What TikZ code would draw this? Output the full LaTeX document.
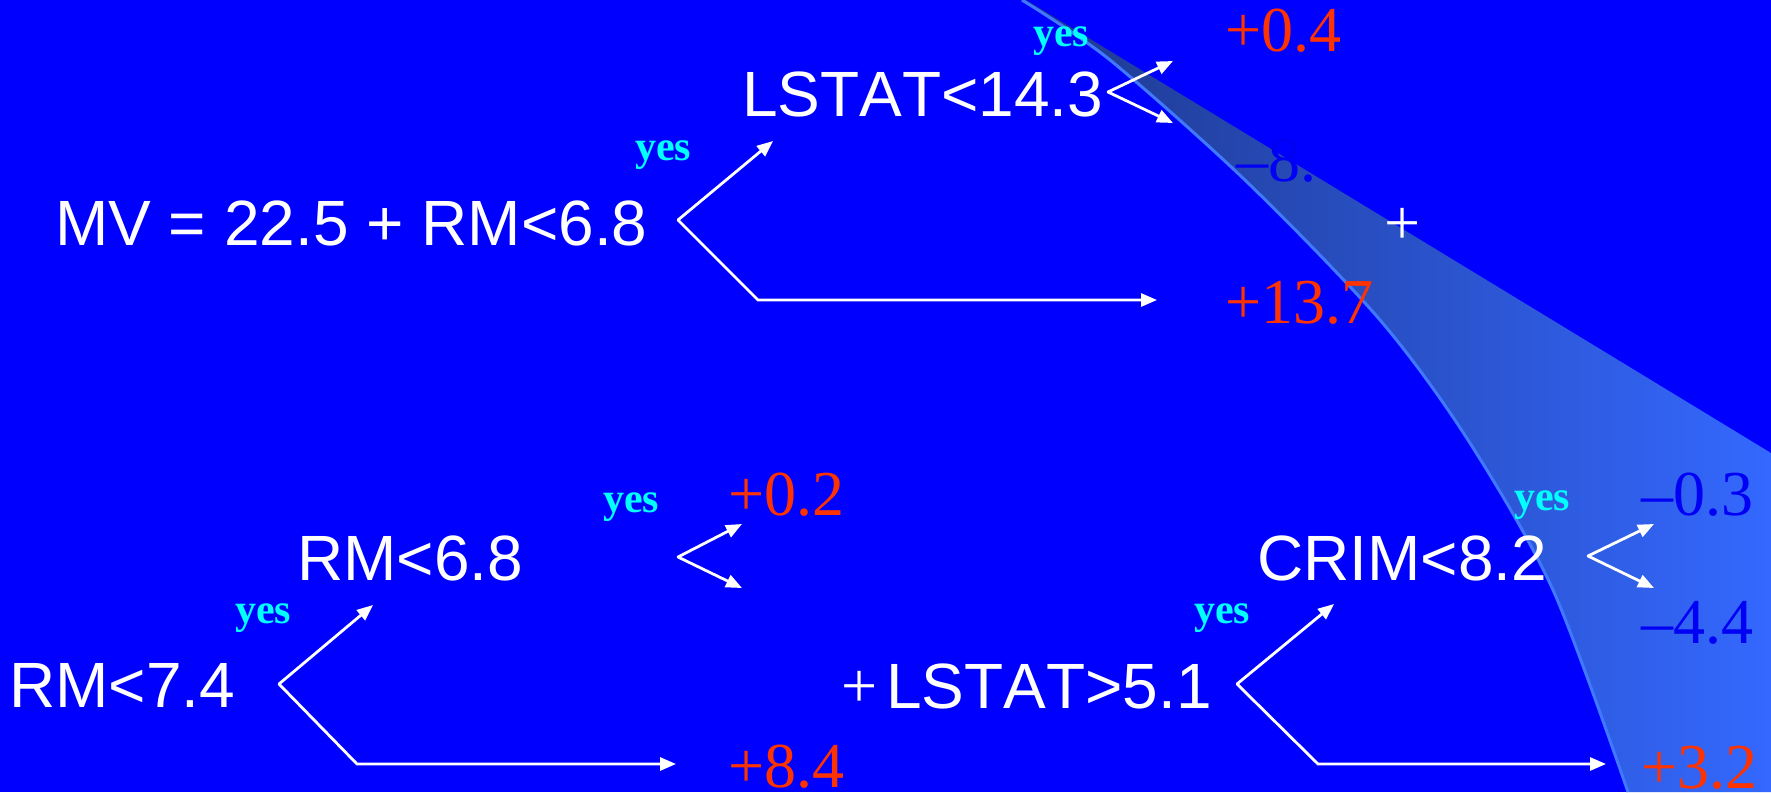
\documentclass[tikz,border=0pt]{standalone}
\usepackage{fontspec}
\setmainfont[Kerning=Off]{Liberation Serif}
\newfontfamily\arialf[Kerning=Off]{Liberation Sans}
\usetikzlibrary{arrows.meta}
\definecolor{bgblue}{RGB}{0,0,255}
\definecolor{valred}{RGB}{255,51,0}
\definecolor{yescyan}{RGB}{0,255,255}
\definecolor{valblue}{RGB}{0,0,245}
\definecolor{banddark}{RGB}{30,56,140}
\definecolor{bandlight}{RGB}{52,104,255}
\definecolor{bandedge}{RGB}{64,120,255}
\begin{document}
\begin{tikzpicture}[x=1pt,y=-1pt,
  cond/.style={anchor=base west,inner sep=0pt,text=white,font=\arialf\fontsize{64}{64}\selectfont},
  val/.style={anchor=base west,inner sep=0pt,text=valred,font=\fontsize{64}{64}\selectfont},
  nval/.style={val,text=valblue},
  yeslbl/.style={anchor=base west,inner sep=0pt,text=yescyan,font=\bfseries\fontsize{42}{42}\selectfont},
  plussign/.style={anchor=base,inner sep=0pt,text=white,font=\fontsize{64}{64}\selectfont},
  br/.style={white,line width=2.8pt,line cap=round,-{Triangle[length=16pt,width=13pt]}},
]
% background
\fill[bgblue] (0,0) rectangle (1771,792);
\useasboundingbox (0,0) rectangle (1771,792);
% light band
\shade[left color=banddark,right color=bandlight]
  plot[smooth] coordinates {(1022,0) (1110,60) (1247,182) (1380,320) (1468,440) (1553,590) (1628,792)}
  -- (1771,792) -- (1771,453) -- (1026,0) -- cycle;
\draw[bandedge,line width=3pt]
  plot[smooth] coordinates {(1022,0) (1110,60) (1247,182) (1380,320) (1468,440) (1553,590) (1628,792)};

% condition nodes
\node[cond] (mv) at (55,245) {MV = 22.5 + RM<6.8};
\node[cond] (ls1) at (742,116) {LSTAT<14.3};
\node[cond] (rm68) at (297,580) {RM<6.8};
\node[cond] (rm74) at (9,707) {RM<7.4};
\node[cond] (ls2) at (886,708) {LSTAT>5.1};
\node[cond] (crim) at (1257,580) {CRIM<8.2};
\node[plussign] (plA) at (1403,244) {+};
\node[plussign] (plB) at (860,707) {+};

% values
\node[val] (v04) at (1225,52) {+0.4};
\node[nval] (v8) at (1236,181) {\textendash8.};
\node[val] (v137) at (1225,323) {+13.7};
\node[val] (v02) at (728,515) {+0.2};
\node[val] (v84) at (728,787) {+8.4};
\node[nval] (v03) at (1641,515) {\textendash0.3};
\node[nval] (v44) at (1641,643) {\textendash4.4};
\node[val] (v32) at (1641,788) {+3.2};

% yes labels
\node[yeslbl] (y1) at (1033,47) {yes};
\node[yeslbl] (y2) at (635,160) {yes};
\node[yeslbl] (y3) at (603,512) {yes};
\node[yeslbl] (y4) at (235,623) {yes};
\node[yeslbl] (y5) at (1194,623) {yes};
\node[yeslbl] (y6) at (1514,510) {yes};

% branch points
\coordinate (b1) at (678,220);
\coordinate (b1u) at (773,141);
\coordinate (b1c) at (758,300);
\coordinate (b1r) at (1157,300);
\coordinate (b2) at (1108,92);
\coordinate (b2u) at (1173,61);
\coordinate (b2d) at (1173,123);
\coordinate (b3) at (279,684);
\coordinate (b3u) at (373,605);
\coordinate (b3c) at (357,764);
\coordinate (b3r) at (676,764);
\coordinate (b4) at (678,557);
\coordinate (b4u) at (742,524);
\coordinate (b4d) at (742,588);
\coordinate (b5) at (1237,684);
\coordinate (b5u) at (1334,604);
\coordinate (b5c) at (1318,764);
\coordinate (b5r) at (1606,764);
\coordinate (b6) at (1588,556);
\coordinate (b6u) at (1654,524);
\coordinate (b6d) at (1654,588);

\draw[br] (b1) -- (b1u);
\draw[br] (b1) -- (b1c) -- (b1r);
\draw[br] (b2) -- (b2u);
\draw[br] (b2) -- (b2d);
\draw[br] (b3) -- (b3u);
\draw[br] (b3) -- (b3c) -- (b3r);
\draw[br] (b4) -- (b4u);
\draw[br] (b4) -- (b4d);
\draw[br] (b5) -- (b5u);
\draw[br] (b5) -- (b5c) -- (b5r);
\draw[br] (b6) -- (b6u);
\draw[br] (b6) -- (b6d);
\end{tikzpicture}
\end{document}
